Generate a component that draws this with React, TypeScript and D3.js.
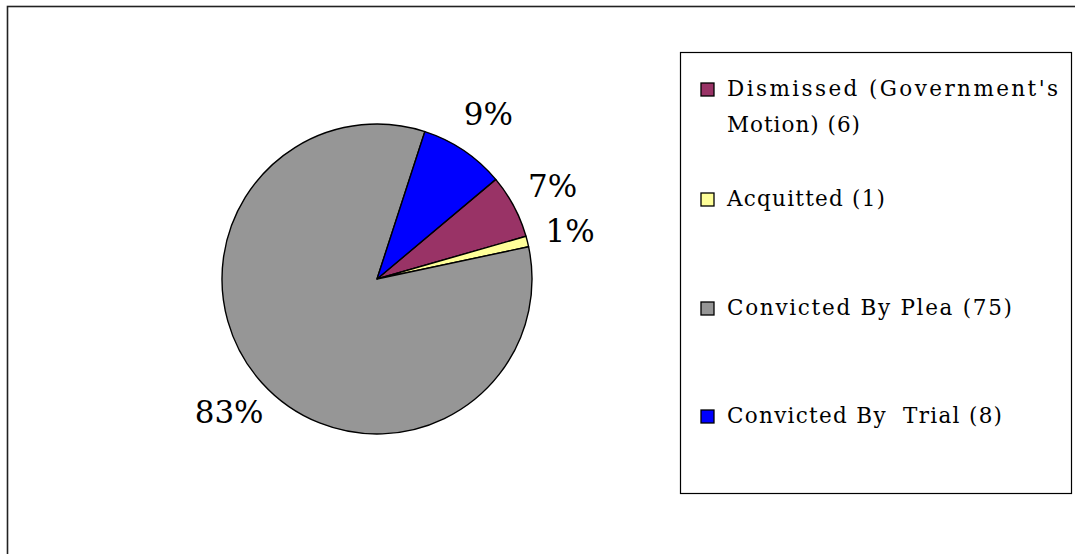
import React from "react";
import * as d3 from "d3";

const categories = ["Dismissed (Government's Motion) (6)", "Acquitted (1)", "Convicted By Plea (75)", "Convicted By  Trial (8)"];
const legendLines = [["Dismissed (Government's", "Motion) (6)"], ["Acquitted (1)"], ["Convicted By Plea (75)"], ["Convicted By  Trial (8)"]];
const legendWidths = [[331, 133], [158], [285], [275]];
const values = [6, 1, 75, 8];
const colors = ["#993366", "#FFFF99", "#969696", "#0000FF"];
const percentLabels = ["7%", "1%", "83%", "9%"];

const W = 1075;
const H = 554;
const cx = 377;
const cy = 279;
const R = 155;
const labelR = 199;
const startDeg = 50;

export default function App() {
  const pie = d3
    .pie<number>()
    .sort(null)
    .startAngle((startDeg * Math.PI) / 180)
    .endAngle((startDeg * Math.PI) / 180 + 2 * Math.PI)
    .value((d) => d);
  const arcs = pie(values);
  const arc = d3.arc<d3.PieArcDatum<number>>().innerRadius(0).outerRadius(R);
  const labelArc = d3.arc<d3.PieArcDatum<number>>().innerRadius(labelR).outerRadius(labelR);

  const legendX = 680.5;
  const legendY = 52.5;
  const legendW = 391;
  const legendH = 441;
  const swatchX = 701;
  const textX = 727;
  const baselines = [96, 206, 315, 423];
  const lineGap = 36;

  const fontFamily = "'DejaVu Serif', serif";

  return (
    <svg
      width={W}
      height={H}
      style={{ position: "absolute", left: 0, top: 0, background: "#fff" }}
    >
      <rect x={7.5} y={6.5} width={W + 20} height={H + 20} fill="#fff" stroke="#222" strokeWidth={1.6} />
      <g transform={`translate(${cx},${cy})`}>
        {arcs.map((a, i) => (
          <path key={i} d={arc(a) || ""} fill={colors[i]} stroke="#000" strokeWidth={1.4} strokeLinejoin="round" />
        ))}
        {arcs.map((a, i) => {
          const [lx, ly] = labelArc.centroid(a);
          return (
            <text
              key={"l" + i}
              x={lx}
              y={ly}
              textAnchor="middle"
              dominantBaseline="central"
              fontFamily={fontFamily}
              fontSize={31}
              fill="#000"
            >
              {percentLabels[i]}
            </text>
          );
        })}
      </g>
      <rect x={legendX} y={legendY} width={legendW} height={legendH} fill="#fff" stroke="#000" strokeWidth={1.2} />
      {categories.map((c, i) => (
        <g key={c}>
          <rect
            x={swatchX}
            y={baselines[i] - 13}
            width={13}
            height={13}
            fill={colors[i]}
            stroke="#000"
            strokeWidth={1.3}
          />
          {legendLines[i].map((line, j) => (
            <text
              key={j}
              x={textX}
              y={baselines[i] + j * lineGap}
              fontFamily={fontFamily}
              fontSize={21.5}
              textLength={legendWidths[i][j]}
              lengthAdjust="spacing"
              fill="#000"
              style={{ whiteSpace: "pre" }}
            >
              {line}
            </text>
          ))}
        </g>
      ))}
    </svg>
  );
}
